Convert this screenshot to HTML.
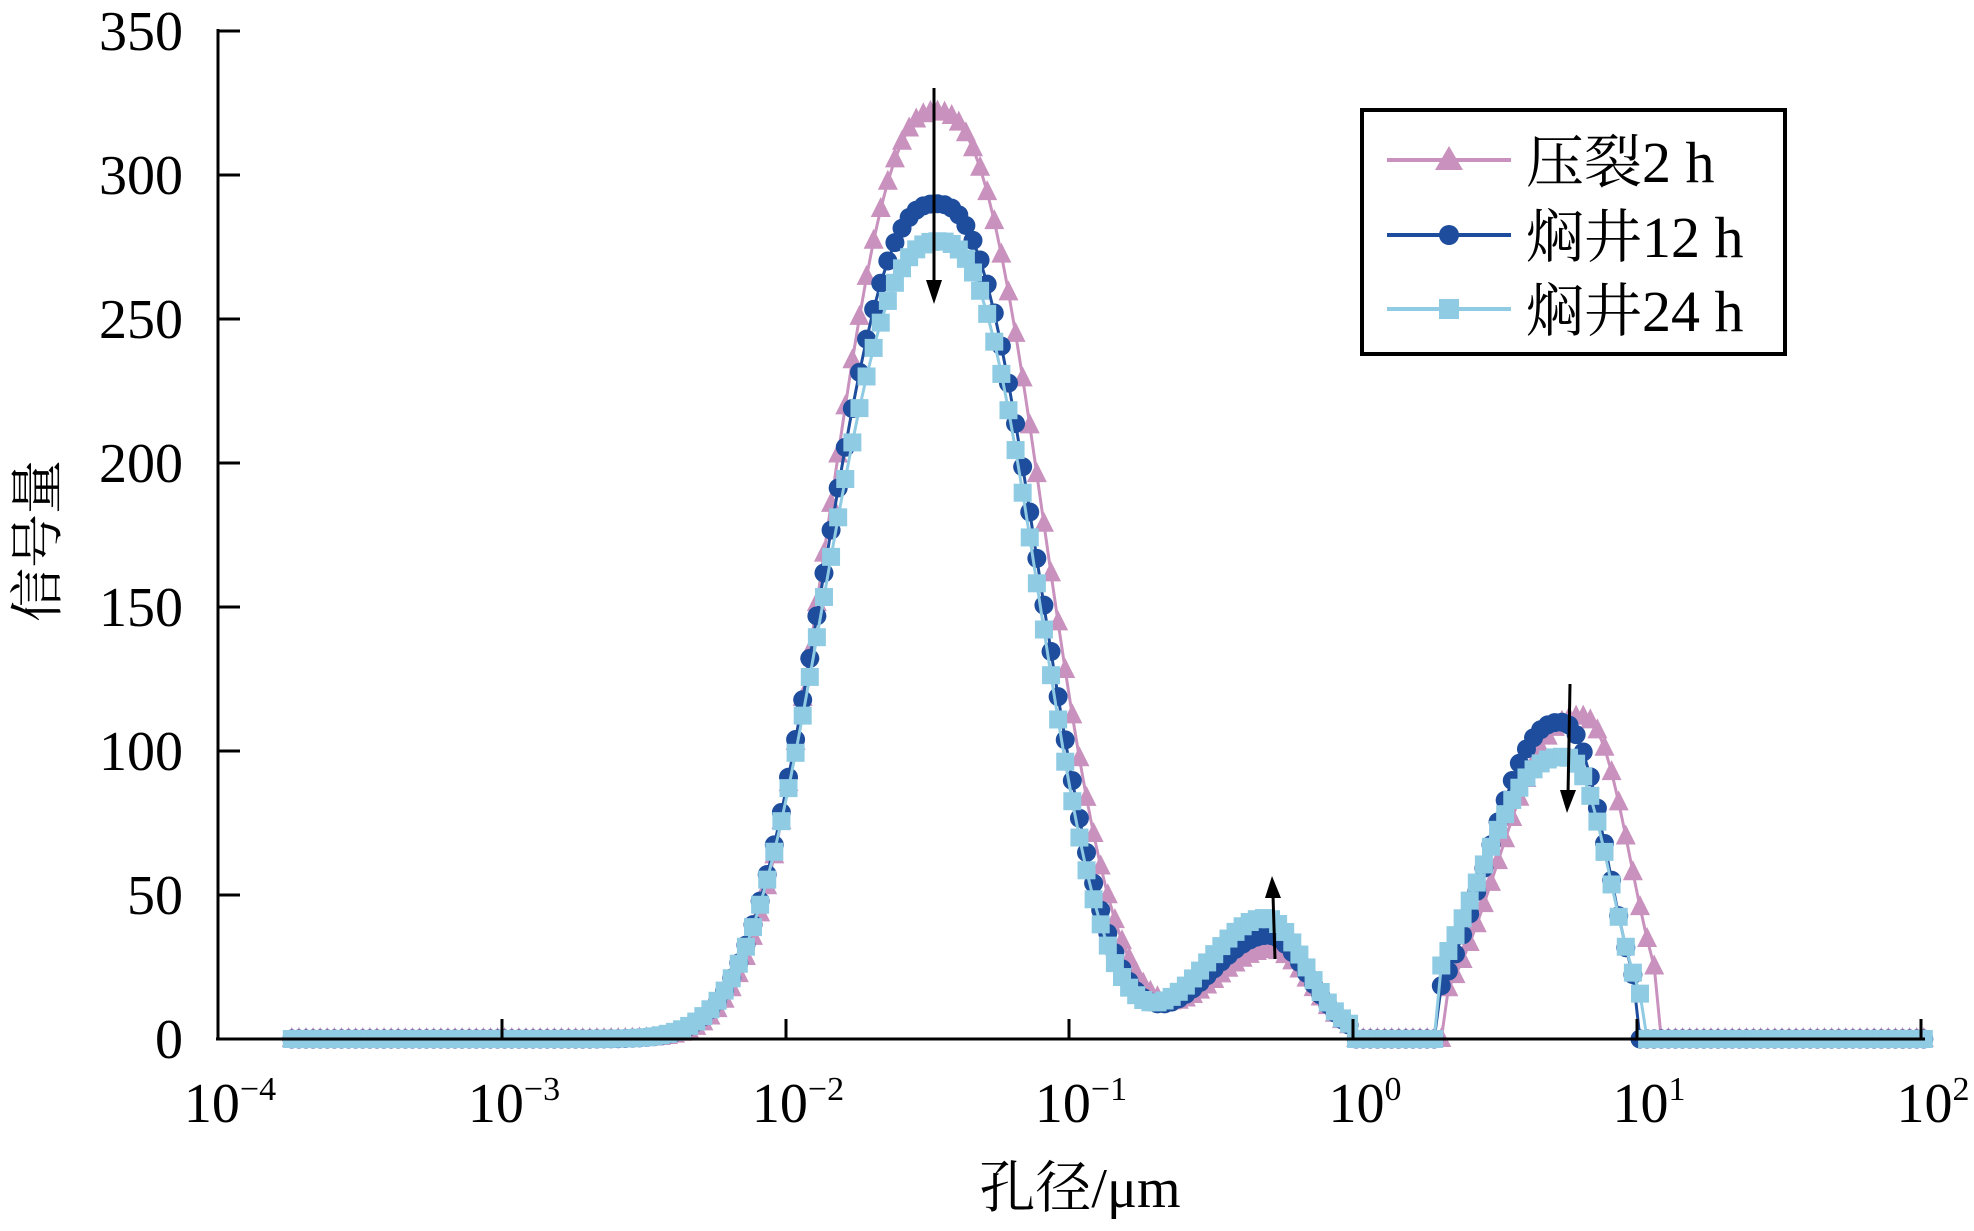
<!DOCTYPE html>
<html><head><meta charset="utf-8"><style>
html,body{margin:0;padding:0;background:#fff;}
svg{display:block;}
text{font-family:"Liberation Serif","Noto Serif CJK SC",serif;fill:#000;}
</style></head><body>
<svg id="s" width="1974" height="1231" viewBox="0 0 1974 1231" xmlns="http://www.w3.org/2000/svg">
<g id="data"></g>
<line x1="218" y1="29" x2="218" y2="1040" stroke="#000" stroke-width="3"/>
<line x1="216" y1="1039" x2="1925" y2="1039" stroke="#000" stroke-width="3"/>
<g stroke="#000" stroke-width="3">
<line x1="218" y1="31" x2="240" y2="31"/>
<line x1="218" y1="175" x2="240" y2="175"/>
<line x1="218" y1="319" x2="240" y2="319"/>
<line x1="218" y1="463" x2="240" y2="463"/>
<line x1="218" y1="607" x2="240" y2="607"/>
<line x1="218" y1="751" x2="240" y2="751"/>
<line x1="218" y1="895" x2="240" y2="895"/>
<line x1="502" y1="1039" x2="502" y2="1019"/>
<line x1="786" y1="1039" x2="786" y2="1019"/>
<line x1="1069" y1="1039" x2="1069" y2="1019"/>
<line x1="1353" y1="1039" x2="1353" y2="1019"/>
<line x1="1637" y1="1039" x2="1637" y2="1019"/>
<line x1="1921" y1="1039" x2="1921" y2="1019"/>
</g>
<g font-size="56" text-anchor="end">
<text x="183" y="50">350</text>
<text x="183" y="194">300</text>
<text x="183" y="338">250</text>
<text x="183" y="482">200</text>
<text x="183" y="626">150</text>
<text x="183" y="770">100</text>
<text x="183" y="914">50</text>
<text x="183" y="1058">0</text>
</g>
<g font-size="56" text-anchor="middle">
<text x="230" y="1122">10<tspan font-size="34" dy="-22">−4</tspan></text>
<text x="514" y="1122">10<tspan font-size="34" dy="-22">−3</tspan></text>
<text x="798" y="1122">10<tspan font-size="34" dy="-22">−2</tspan></text>
<text x="1081" y="1122">10<tspan font-size="34" dy="-22">−1</tspan></text>
<text x="1365" y="1122">10<tspan font-size="34" dy="-22">0</tspan></text>
<text x="1649" y="1122">10<tspan font-size="34" dy="-22">1</tspan></text>
<text x="1933" y="1122">10<tspan font-size="34" dy="-22">2</tspan></text>
</g>
<text x="1080" y="1207" font-size="56" text-anchor="middle">孔径/μm</text>
<text transform="translate(56,541) rotate(-90)" font-size="54" text-anchor="middle">信号量</text>
<g stroke="#000" stroke-width="3">
<line x1="934" y1="88" x2="934" y2="285"/>
<line x1="1275" y1="959" x2="1273" y2="895"/>
<line x1="1570" y1="684" x2="1568" y2="795"/>
</g>
<polygon points="926,280 942,280 934,304" fill="#000"/>
<polygon points="1265,898 1281,898 1272,876" fill="#000"/>
<polygon points="1560,790 1576,790 1567,813" fill="#000"/>
<rect x="1362" y="110" width="423" height="244" fill="#fff" stroke="#000" stroke-width="4"/>
<line x1="1387" y1="160" x2="1511" y2="160" stroke="#c991bd" stroke-width="4"/>
<polygon points="1449,146 1463,170 1435,170" fill="#c991bd"/>
<line x1="1387" y1="235" x2="1511" y2="235" stroke="#1d4d9c" stroke-width="4"/>
<circle cx="1449" cy="235" r="10" fill="#1d4d9c"/>
<line x1="1387" y1="309" x2="1511" y2="309" stroke="#8fcbe3" stroke-width="4"/>
<rect x="1439" y="299" width="20" height="20" fill="#8fcbe3"/>
<g font-size="58">
<text x="1526" y="182">压裂2 h</text>
<text x="1526" y="257">焖井12 h</text>
<text x="1526" y="331">焖井24 h</text>
</g>
</svg>
<script>
function g(l,mu,h,wl,wr,p){var d=l-mu;var w=d<0?wl:wr;return h*Math.exp(-Math.pow(Math.abs(d)/w,p));}
var S=[
 {c:"#c991bd",m:"t",p:[[-1.47,322,.47,.47,2.5],[-0.29,31,.3,.2,2],[0.80,112,.36,.22,2.4]],z0:0.0,z1:0.31,ze:1.08},
 {c:"#1d4d9c",m:"c",p:[[-1.47,290,.49,.45,2.5],[-0.30,36,.3,.2,2],[0.73,110,.33,.21,2.4]],z0:0.0,z1:0.30,ze:1.0},
 {c:"#8fcbe3",m:"s",p:[[-1.46,277,.50,.435,2.5],[-0.31,42,.3,.2,2],[0.74,98,.38,.21,2.4]],z0:0.0,z1:0.29,ze:1.01}
];
function X(l){return 218+(l+4)*283.83;}
function Y(v){return 1039-v*2.88;}
var out="";
S.forEach(function(s){
 var pts=[];
 for(var i=0;i<=230;i++){var l=-3.74+i*0.025;var v=0;
  s.p.forEach(function(q){v+=g(l,q[0],q[1],q[2],q[3],q[4]);});
  if((l>=s.z0&&l<=s.z1)||l>s.ze)v=0;
  pts.push([X(l),Y(v)]);}
 out+='<polyline fill="none" stroke="'+s.c+'" stroke-width="3" points="'+pts.map(function(p){return p[0].toFixed(1)+","+p[1].toFixed(1)}).join(" ")+'"/>';
 pts.forEach(function(p){var x=p[0],y=p[1];
  if(s.m=="t")out+='<polygon fill="'+s.c+'" points="'+x+','+(y-12)+' '+(x+10)+','+(y+8)+' '+(x-10)+','+(y+8)+'"/>';
  else if(s.m=="c")out+='<circle fill="'+s.c+'" cx="'+x+'" cy="'+y+'" r="9.5"/>';
  else out+='<rect fill="'+s.c+'" x="'+(x-9)+'" y="'+(y-9)+'" width="18" height="18"/>';});
});
document.getElementById("data").innerHTML=out;
</script>
</body></html>
